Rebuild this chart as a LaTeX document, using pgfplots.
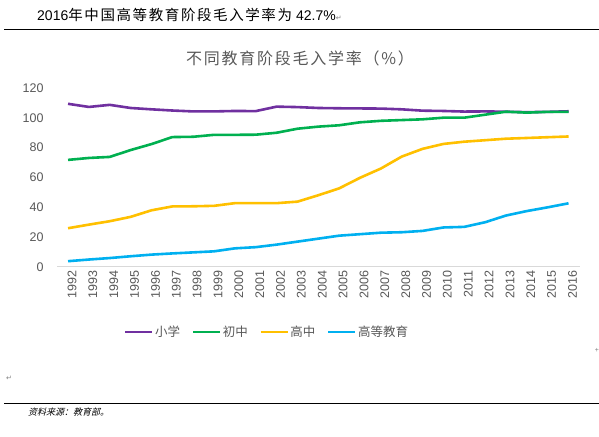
\documentclass[border=0pt]{standalone}
\usepackage{fontspec}
\usepackage{pgfplots}
\usepackage{pgfplotstable}
\pgfplotsset{compat=1.18}
\setmainfont{Liberation Sans}
\newfontfamily\cjk{Noto Sans CJK SC}
\newfontfamily\cjksp[LetterSpace=11]{Noto Sans CJK SC}
\newfontfamily\cjkit[FakeSlant=0.25]{Noto Sans CJK SC}
\newfontfamily\symf{DejaVu Sans}
\definecolor{cpur}{HTML}{7030A0}
\definecolor{cgrn}{HTML}{00B050}
\definecolor{cyel}{HTML}{FFC000}
\definecolor{cblu}{HTML}{00B0F0}
\definecolor{ctxt}{HTML}{595959}
\definecolor{cax}{HTML}{D9D9D9}

\pgfplotstableread{
year primary junior senior higher
1992 109.4 71.8 26.0 3.9
1993 107.3 73.1 28.4 5.0
1994 108.7 73.8 30.7 6.0
1995 106.6 78.4 33.6 7.2
1996 105.7 82.4 38.0 8.3
1997 104.9 87.1 40.6 9.1
1998 104.3 87.3 40.7 9.8
1999 104.3 88.6 41.0 10.5
2000 104.6 88.6 42.8 12.5
2001 104.5 88.7 42.8 13.3
2002 107.5 90.0 42.8 15.0
2003 107.2 92.7 43.8 17.0
2004 106.6 94.1 48.1 19.0
2005 106.4 95.0 52.7 21.0
2006 106.3 97.0 59.8 22.0
2007 106.2 98.0 66.0 23.0
2008 105.7 98.5 74.0 23.3
2009 104.8 99.0 79.2 24.2
2010 104.6 100.1 82.5 26.5
2011 104.2 100.1 84.0 26.9
2012 104.3 102.1 85.0 30.0
2013 104.1 104.1 86.0 34.5
2014 103.8 103.5 86.5 37.5
2015 104.0 104.0 87.0 40.0
2016 104.4 104.0 87.5 42.7
}\datatable

\begin{document}
\begin{tikzpicture}[x=1pt,y=1pt]
\useasboundingbox (0,0) rectangle (599,436);
\fill[white] (0,0) rectangle (599,436);
% heading
\node[anchor=west, inner sep=0pt] at (37,421) {\fontsize{14}{16}\selectfont 2016{\cjksp\fontsize{14.5}{16}\selectfont 年中国高等教育阶段毛入学率为}\hspace{4pt}42.7\%{\symf\fontsize{7}{8}\selectfont\color{gray}↵}};
\draw[black, line width=1pt] (4,406) -- (599,406);
% title
\node[inner sep=0pt] at (300,378) {\cjksp\fontsize{16}{18}\selectfont\color{ctxt}不同教育阶段毛入学率（\%）};
\begin{axis}[
  at={(57pt,169pt)}, anchor=south west,
  scale only axis, width=523pt, height=179pt,
  xmin=1991.47, xmax=2016.55, ymin=0, ymax=120,
  axis line style={draw=none},
  axis x line*=bottom, axis y line*=left,
  xtick={1992,1993,...,2016},
  ytick={0,20,...,120},
  major tick length=0pt,
  /pgf/number format/assume math mode=true,
  /pgf/number format/1000 sep={},
  tick label style={font=\fontsize{12.5}{14}\selectfont, text=ctxt},
  xticklabel style={rotate=90, anchor=east, yshift=-4pt},
  yticklabel style={anchor=east, xshift=-10pt},
  legend columns=4,
  legend style={at={(0.128,-0.363)}, anchor=west, draw=none, fill=none, inner sep=0pt,
     nodes={inner sep=1.5pt},
     font=\cjk\fontsize{12.5}{15}\selectfont, text=ctxt,
     /tikz/every even column/.append style={column sep=10pt}},
  legend image code/.code={\draw[#1] (0pt,0pt) -- (27pt,0pt);},
  legend cell align=left,
  every axis plot/.append style={line width=2.6pt, line join=round},
  clip=false,
]
\draw[cax, line width=1pt] (axis cs:1991.47,0) -- (axis cs:2016.55,0);
\addplot[cpur, mark=none] table[x=year, y=primary] {\datatable};
\addlegendentry{小学}
\addplot[cgrn, mark=none] table[x=year, y=junior] {\datatable};
\addlegendentry{初中}
\addplot[cyel, mark=none] table[x=year, y=senior] {\datatable};
\addlegendentry{高中}
\addplot[cblu, mark=none] table[x=year, y=higher] {\datatable};
\addlegendentry{高等教育}
\end{axis}
% paragraph marks
\node[inner sep=0pt] at (597,86) {\fontsize{7}{8}\selectfont\color{gray}+};
\node[inner sep=0pt] at (9,58) {\symf\fontsize{7}{8}\selectfont\color{gray}↵};
\draw[black, line width=1pt] (4,32) -- (599,32);
\node[anchor=west, inner sep=0pt] at (28,24) {\cjkit\fontsize{9}{10}\selectfont 资料来源：教育部。};
\end{tikzpicture}
\end{document}
